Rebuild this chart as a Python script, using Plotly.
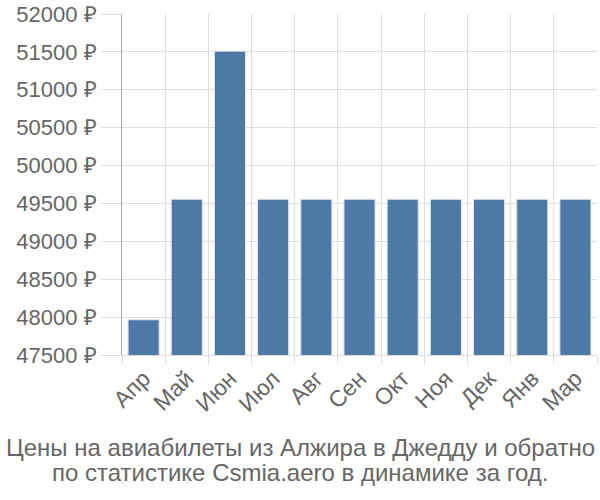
import plotly.graph_objects as go

months = ["Апр", "Май", "Июн", "Июл", "Авг", "Сен", "Окт", "Ноя", "Дек", "Янв", "Мар"]
prices = [47965, 49555, 51510, 49555, 49555, 49555, 49555, 49555, 49555, 49555, 49555]
y_ticks = [47500, 48000, 48500, 49000, 49500, 50000, 50500, 51000, 51500, 52000]
title_lines = ["Цены на авиабилеты из Алжира в Джедду и обратно",
               "по статистике Csmia.aero в динамике за год."]

FONT = "Liberation Sans, Arial, sans-serif"
GREY = "#666666"

fig = go.Figure(go.Bar(
    x=months, y=prices, width=0.72,
    marker=dict(color="#4e79a7", line=dict(color="#dfe6ee", width=1)),
))

fig.update_layout(
    width=600, height=500,
    margin=dict(l=122, r=3, t=14, b=145),
    plot_bgcolor="white", paper_bgcolor="white",
    font=dict(family=FONT, size=22, color=GREY),
    showlegend=False,
)
fig.update_xaxes(
    tickson="boundaries", ticks="outside", ticklen=8, tickcolor="#dddddd",
    showgrid=True, gridcolor="#dddddd", gridwidth=1,
    tickangle=-45, showline=True, linecolor="#dddddd",
    tickfont=dict(size=23, color=GREY),
)
fig.update_yaxes(
    range=[47500, 52000], tickvals=y_ticks,
    ticktext=[f"{v} ₽" for v in y_ticks],
    ticks="outside", ticklen=20, tickcolor="#dddddd",
    showgrid=True, gridcolor="#dddddd", gridwidth=1,
    showline=True, linecolor="#aaaaaa", linewidth=1, zeroline=False,
    tickfont=dict(size=22, color=GREY),
)
plot_h = 500 - 14 - 145
for i, (line, ypix) in enumerate(zip(title_lines, [447, 472])):
    fig.add_annotation(
        text=line, xref="paper", yref="paper",
        x=(300 - 122) / (600 - 122 - 3), xanchor="center",
        y=(500 - 145 - ypix) / plot_h, yanchor="middle",
        showarrow=False, font=dict(size=24, color=GREY),
    )

fig.write_html("out.html")
